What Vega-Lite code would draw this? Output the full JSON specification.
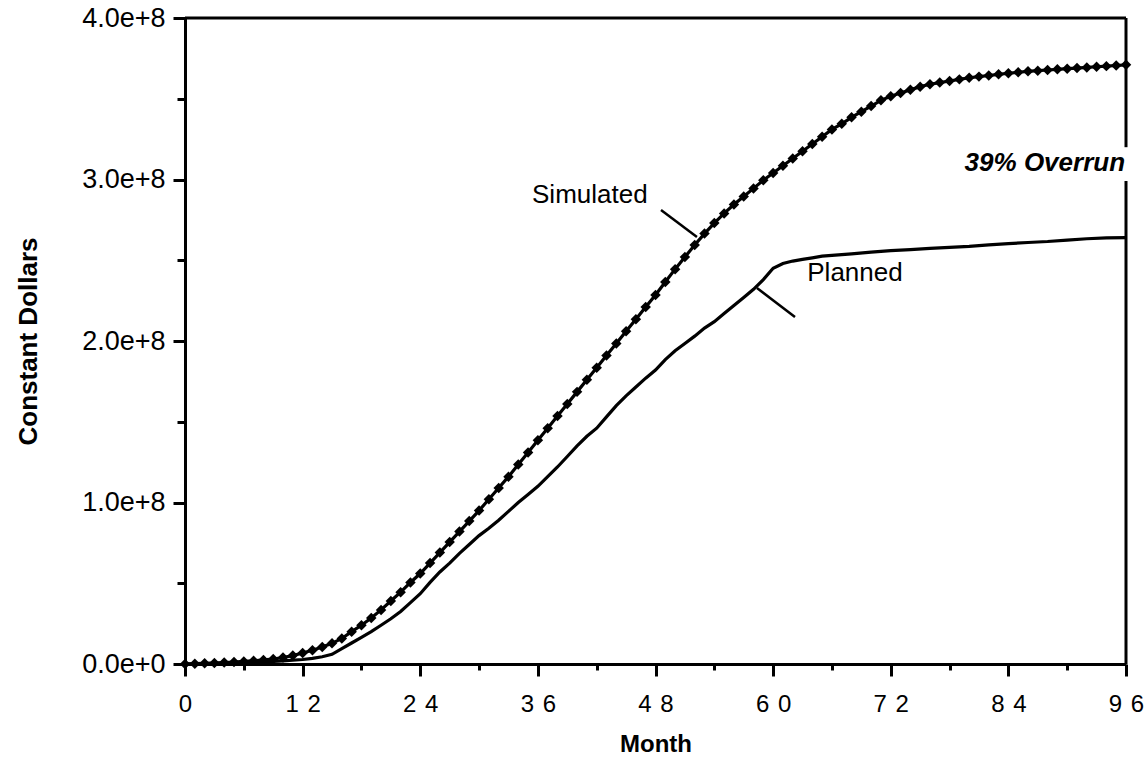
{
  "$schema": "https://vega.github.io/schema/vega-lite/v6.json",
  "width": 941,
  "height": 646,
  "autosize": {"type": "none"},
  "padding": {"left": 185, "top": 18, "right": 20, "bottom": 99},
  "background": "white",
  "config": {
    "view": {"stroke": null},
    "font": "Liberation Sans"
  },
  "datasets": {
    "curves": [
      {"month":0,"value":0,"series":"Simulated"},{"month":1,"value":0.002e8,"series":"Simulated"},{"month":2,"value":0.004e8,"series":"Simulated"},{"month":3,"value":0.006e8,"series":"Simulated"},{"month":4,"value":0.009e8,"series":"Simulated"},{"month":5,"value":0.012e8,"series":"Simulated"},{"month":6,"value":0.016e8,"series":"Simulated"},{"month":7,"value":0.02e8,"series":"Simulated"},{"month":8,"value":0.025e8,"series":"Simulated"},{"month":9,"value":0.031e8,"series":"Simulated"},{"month":10,"value":0.04e8,"series":"Simulated"},{"month":11,"value":0.052e8,"series":"Simulated"},{"month":12,"value":0.068e8,"series":"Simulated"},{"month":13,"value":0.085e8,"series":"Simulated"},{"month":14,"value":0.105e8,"series":"Simulated"},{"month":15,"value":0.128e8,"series":"Simulated"},{"month":16,"value":0.158e8,"series":"Simulated"},{"month":17,"value":0.2e8,"series":"Simulated"},{"month":18,"value":0.24e8,"series":"Simulated"},{"month":19,"value":0.285e8,"series":"Simulated"},{"month":20,"value":0.335e8,"series":"Simulated"},{"month":21,"value":0.39e8,"series":"Simulated"},{"month":22,"value":0.445e8,"series":"Simulated"},{"month":23,"value":0.505e8,"series":"Simulated"},{"month":24,"value":0.56e8,"series":"Simulated"},{"month":25,"value":0.625e8,"series":"Simulated"},{"month":26,"value":0.69e8,"series":"Simulated"},{"month":27,"value":0.755e8,"series":"Simulated"},{"month":28,"value":0.82e8,"series":"Simulated"},{"month":29,"value":0.885e8,"series":"Simulated"},{"month":30,"value":0.95e8,"series":"Simulated"},{"month":31,"value":1.02e8,"series":"Simulated"},{"month":32,"value":1.09e8,"series":"Simulated"},{"month":33,"value":1.16e8,"series":"Simulated"},{"month":34,"value":1.235e8,"series":"Simulated"},{"month":35,"value":1.31e8,"series":"Simulated"},{"month":36,"value":1.385e8,"series":"Simulated"},{"month":37,"value":1.46e8,"series":"Simulated"},{"month":38,"value":1.535e8,"series":"Simulated"},{"month":39,"value":1.61e8,"series":"Simulated"},{"month":40,"value":1.685e8,"series":"Simulated"},{"month":41,"value":1.76e8,"series":"Simulated"},{"month":42,"value":1.835e8,"series":"Simulated"},{"month":43,"value":1.91e8,"series":"Simulated"},{"month":44,"value":1.985e8,"series":"Simulated"},{"month":45,"value":2.06e8,"series":"Simulated"},{"month":46,"value":2.135e8,"series":"Simulated"},{"month":47,"value":2.21e8,"series":"Simulated"},{"month":48,"value":2.285e8,"series":"Simulated"},{"month":49,"value":2.365e8,"series":"Simulated"},{"month":50,"value":2.445e8,"series":"Simulated"},{"month":51,"value":2.52e8,"series":"Simulated"},{"month":52,"value":2.595e8,"series":"Simulated"},{"month":53,"value":2.665e8,"series":"Simulated"},{"month":54,"value":2.73e8,"series":"Simulated"},{"month":55,"value":2.79e8,"series":"Simulated"},{"month":56,"value":2.845e8,"series":"Simulated"},{"month":57,"value":2.895e8,"series":"Simulated"},{"month":58,"value":2.945e8,"series":"Simulated"},{"month":59,"value":2.995e8,"series":"Simulated"},{"month":60,"value":3.04e8,"series":"Simulated"},{"month":61,"value":3.085e8,"series":"Simulated"},{"month":62,"value":3.13e8,"series":"Simulated"},{"month":63,"value":3.175e8,"series":"Simulated"},{"month":64,"value":3.22e8,"series":"Simulated"},{"month":65,"value":3.265e8,"series":"Simulated"},{"month":66,"value":3.31e8,"series":"Simulated"},{"month":67,"value":3.345e8,"series":"Simulated"},{"month":68,"value":3.385e8,"series":"Simulated"},{"month":69,"value":3.42e8,"series":"Simulated"},{"month":70,"value":3.455e8,"series":"Simulated"},{"month":71,"value":3.49e8,"series":"Simulated"},{"month":72,"value":3.515e8,"series":"Simulated"},{"month":73,"value":3.535e8,"series":"Simulated"},{"month":74,"value":3.555e8,"series":"Simulated"},{"month":75,"value":3.575e8,"series":"Simulated"},{"month":76,"value":3.59e8,"series":"Simulated"},{"month":77,"value":3.6e8,"series":"Simulated"},{"month":78,"value":3.61e8,"series":"Simulated"},{"month":79,"value":3.62e8,"series":"Simulated"},{"month":80,"value":3.63e8,"series":"Simulated"},{"month":81,"value":3.637e8,"series":"Simulated"},{"month":82,"value":3.644e8,"series":"Simulated"},{"month":83,"value":3.651e8,"series":"Simulated"},{"month":84,"value":3.658e8,"series":"Simulated"},{"month":85,"value":3.664e8,"series":"Simulated"},{"month":86,"value":3.67e8,"series":"Simulated"},{"month":87,"value":3.674e8,"series":"Simulated"},{"month":88,"value":3.678e8,"series":"Simulated"},{"month":89,"value":3.682e8,"series":"Simulated"},{"month":90,"value":3.686e8,"series":"Simulated"},{"month":91,"value":3.69e8,"series":"Simulated"},{"month":92,"value":3.694e8,"series":"Simulated"},{"month":93,"value":3.698e8,"series":"Simulated"},{"month":94,"value":3.702e8,"series":"Simulated"},{"month":95,"value":3.706e8,"series":"Simulated"},{"month":96,"value":3.71e8,"series":"Simulated"},
      {"month":0,"value":0,"series":"Planned"},{"month":2,"value":0.002e8,"series":"Planned"},{"month":4,"value":0.005e8,"series":"Planned"},{"month":6,"value":0.009e8,"series":"Planned"},{"month":8,"value":0.013e8,"series":"Planned"},{"month":10,"value":0.019e8,"series":"Planned"},{"month":12,"value":0.028e8,"series":"Planned"},{"month":13,"value":0.035e8,"series":"Planned"},{"month":14,"value":0.045e8,"series":"Planned"},{"month":15,"value":0.06e8,"series":"Planned"},{"month":16,"value":0.095e8,"series":"Planned"},{"month":17,"value":0.13e8,"series":"Planned"},{"month":18,"value":0.165e8,"series":"Planned"},{"month":19,"value":0.2e8,"series":"Planned"},{"month":20,"value":0.24e8,"series":"Planned"},{"month":21,"value":0.28e8,"series":"Planned"},{"month":22,"value":0.325e8,"series":"Planned"},{"month":23,"value":0.38e8,"series":"Planned"},{"month":24,"value":0.435e8,"series":"Planned"},{"month":25,"value":0.505e8,"series":"Planned"},{"month":26,"value":0.57e8,"series":"Planned"},{"month":27,"value":0.625e8,"series":"Planned"},{"month":28,"value":0.685e8,"series":"Planned"},{"month":29,"value":0.74e8,"series":"Planned"},{"month":30,"value":0.795e8,"series":"Planned"},{"month":31,"value":0.84e8,"series":"Planned"},{"month":32,"value":0.89e8,"series":"Planned"},{"month":33,"value":0.945e8,"series":"Planned"},{"month":34,"value":1.0e8,"series":"Planned"},{"month":35,"value":1.05e8,"series":"Planned"},{"month":36,"value":1.1e8,"series":"Planned"},{"month":37,"value":1.16e8,"series":"Planned"},{"month":38,"value":1.22e8,"series":"Planned"},{"month":39,"value":1.285e8,"series":"Planned"},{"month":40,"value":1.35e8,"series":"Planned"},{"month":41,"value":1.41e8,"series":"Planned"},{"month":42,"value":1.46e8,"series":"Planned"},{"month":43,"value":1.53e8,"series":"Planned"},{"month":44,"value":1.6e8,"series":"Planned"},{"month":45,"value":1.66e8,"series":"Planned"},{"month":46,"value":1.715e8,"series":"Planned"},{"month":47,"value":1.77e8,"series":"Planned"},{"month":48,"value":1.82e8,"series":"Planned"},{"month":49,"value":1.885e8,"series":"Planned"},{"month":50,"value":1.94e8,"series":"Planned"},{"month":51,"value":1.985e8,"series":"Planned"},{"month":52,"value":2.03e8,"series":"Planned"},{"month":53,"value":2.08e8,"series":"Planned"},{"month":54,"value":2.12e8,"series":"Planned"},{"month":55,"value":2.17e8,"series":"Planned"},{"month":56,"value":2.22e8,"series":"Planned"},{"month":57,"value":2.27e8,"series":"Planned"},{"month":58,"value":2.32e8,"series":"Planned"},{"month":59,"value":2.38e8,"series":"Planned"},{"month":60,"value":2.45e8,"series":"Planned"},{"month":61,"value":2.48e8,"series":"Planned"},{"month":62,"value":2.495e8,"series":"Planned"},{"month":63,"value":2.505e8,"series":"Planned"},{"month":64,"value":2.515e8,"series":"Planned"},{"month":65,"value":2.525e8,"series":"Planned"},{"month":66,"value":2.53e8,"series":"Planned"},{"month":68,"value":2.54e8,"series":"Planned"},{"month":70,"value":2.55e8,"series":"Planned"},{"month":72,"value":2.56e8,"series":"Planned"},{"month":74,"value":2.566e8,"series":"Planned"},{"month":76,"value":2.573e8,"series":"Planned"},{"month":78,"value":2.58e8,"series":"Planned"},{"month":80,"value":2.586e8,"series":"Planned"},{"month":82,"value":2.595e8,"series":"Planned"},{"month":84,"value":2.603e8,"series":"Planned"},{"month":86,"value":2.61e8,"series":"Planned"},{"month":88,"value":2.616e8,"series":"Planned"},{"month":90,"value":2.625e8,"series":"Planned"},{"month":92,"value":2.633e8,"series":"Planned"},{"month":94,"value":2.638e8,"series":"Planned"},{"month":96,"value":2.64e8,"series":"Planned"}
    ],
    "borders": [
      {"x": 0, "x2": 96, "y": 4e8, "y2": 4e8},
      {"x": 96, "x2": 96, "y": 3.2e8, "y2": 4e8},
      {"x": 96, "x2": 96, "y": 0, "y2": 2.99e8}
    ],
    "leaders": [
      {"x": 48.56, "x2": 52.23, "y": 2.811e8, "y2": 2.644e8},
      {"x": 58.35, "x2": 62.23, "y": 2.328e8, "y2": 2.149e8}
    ],
    "notes": [
      {"x": 41.3, "y": 2.904e8, "label": "Simulated", "kind": "plain"},
      {"x": 68.35, "y": 2.42e8, "label": "Planned", "kind": "plain"},
      {"x": 95.9, "y": 3.10e8, "label": "39% Overrun", "kind": "strong"}
    ]
  },
  "layer": [
    {
      "data": {"name": "curves"},
      "mark": {"type": "line", "color": "black", "strokeWidth": 3.2, "interpolate": "linear"},
      "encoding": {
        "x": {
          "field": "month", "type": "quantitative",
          "scale": {"domain": [0, 96], "nice": false, "zero": false},
          "axis": {
            "title": "Month",
            "values": [0,6,12,18,24,30,36,42,48,54,60,66,72,78,84,90,96],
            "labelExpr": "datum.value % 12 == 0 ? (datum.value >= 10 ? slice(toString(datum.value),0,1) + ' \u200a' + slice(toString(datum.value),1) : toString(datum.value)) : ''",
            "grid": false,
            "domainColor": "black", "domainWidth": 3,
            "tickColor": "black", "tickWidth": 3,
            "tickSize": {"condition": {"test": "datum.value % 12 == 0", "value": 12}, "value": 6},
            "labelFont": "Liberation Sans", "labelFontSize": 24, "labelColor": "black",
            "labelPadding": 16, "labelFlush": false, "labelOverlap": false,
            "titleFont": "Liberation Sans", "titleFontSize": 24, "titleFontWeight": "bold", "titleColor": "black",
            "titlePadding": 16
          }
        },
        "y": {
          "field": "value", "type": "quantitative",
          "scale": {"domain": [0, 400000000], "nice": false},
          "axis": {
            "title": "Constant Dollars",
            "values": [0, 50000000, 100000000, 150000000, 200000000, 250000000, 300000000, 350000000, 400000000],
            "labelExpr": "datum.value % 100000000 == 0 ? (format(datum.value / 100000000, '.1f') + (datum.value == 0 ? 'e+0' : 'e+8')) : ''",
            "grid": false,
            "domainColor": "black", "domainWidth": 3,
            "tickColor": "black", "tickWidth": 3,
            "tickSize": {"condition": {"test": "datum.value % 100000000 == 0", "value": 12}, "value": 8},
            "labelFont": "Liberation Sans", "labelFontSize": 27, "labelColor": "black",
            "labelPadding": 8, "labelFlush": false, "labelOverlap": false,
            "titleFont": "Liberation Sans", "titleFontSize": 26, "titleFontWeight": "bold", "titleColor": "black",
            "titleX": -157, "titleY": 323, "titleAngle": -90, "titleAlign": "center", "titleBaseline": "middle"
          }
        },
        "detail": {"field": "series"}
      }
    },
    {
      "data": {"name": "curves"},
      "transform": [{"filter": "datum.series == 'Simulated'"}],
      "mark": {"type": "point", "shape": "diamond", "filled": true, "color": "black", "size": 110, "opacity": 1},
      "encoding": {
        "x": {"field": "month", "type": "quantitative"},
        "y": {"field": "value", "type": "quantitative"}
      }
    },
    {
      "data": {"name": "borders"},
      "mark": {"type": "rule", "color": "black", "strokeWidth": 3},
      "encoding": {
        "x": {"field": "x", "type": "quantitative"},
        "x2": {"field": "x2"},
        "y": {"field": "y", "type": "quantitative"},
        "y2": {"field": "y2"}
      }
    },
    {
      "data": {"name": "leaders"},
      "mark": {"type": "rule", "color": "black", "strokeWidth": 2.5},
      "encoding": {
        "x": {"field": "x", "type": "quantitative"},
        "x2": {"field": "x2"},
        "y": {"field": "y", "type": "quantitative"},
        "y2": {"field": "y2"}
      }
    },
    {
      "data": {"name": "notes"},
      "transform": [{"filter": "datum.kind == 'plain'"}],
      "mark": {"type": "text", "font": "Liberation Sans", "fontSize": 26, "color": "black", "align": "center", "baseline": "middle"},
      "encoding": {
        "x": {"field": "x", "type": "quantitative"},
        "y": {"field": "y", "type": "quantitative"},
        "text": {"field": "label"}
      }
    },
    {
      "data": {"name": "notes"},
      "transform": [{"filter": "datum.kind == 'strong'"}],
      "mark": {"type": "text", "font": "Liberation Sans", "fontSize": 26, "fontWeight": "bold", "fontStyle": "italic", "color": "black", "align": "right", "baseline": "middle"},
      "encoding": {
        "x": {"field": "x", "type": "quantitative"},
        "y": {"field": "y", "type": "quantitative"},
        "text": {"field": "label"}
      }
    }
  ]
}
